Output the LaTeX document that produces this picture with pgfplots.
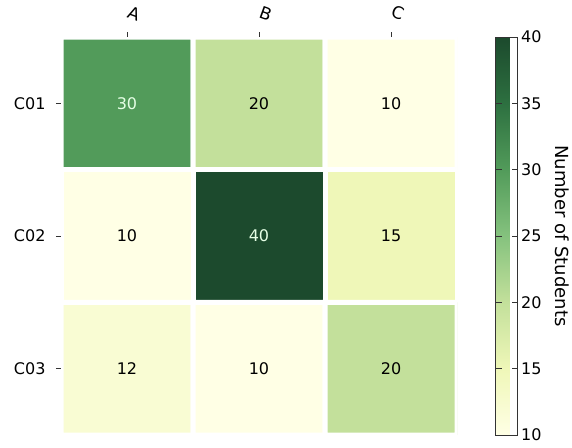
\documentclass[border=0pt]{standalone}
\usepackage{pgfplots}
\pgfplotsset{compat=1.18}
\usepackage{pgfplotstable}
\usepackage{fontspec}
\setmainfont{DejaVu Sans}

% students per course (x = group A/B/C, y = course row)
\pgfplotstableread{
x y c
0 0 30
1 0 20
2 0 10
0 1 10
1 1 40
2 1 15
0 2 12
1 2 10
2 2 20
}\students

\pgfplotstableread{
x y c
1 0 20
2 0 10
0 1 10
2 1 15
0 2 12
1 2 10
2 2 20
}\lightcells

\pgfplotstableread{
x y c
0 0 30
1 1 40
}\darkcells

\begin{document}
\begin{tikzpicture}[font=\fontsize{16}{19}\selectfont]
\begin{axis}[
    at={(0,0)}, anchor=south west,
    width=396pt, height=398pt, scale only axis,
    xmin=-0.5, xmax=2.5, ymin=-0.5, ymax=2.5,
    y dir=reverse,
    axis line style={draw=none},
    xtick={0,1,2}, xticklabels={A,B,C},
    ytick={0,1,2}, yticklabels={C01,C02,C03},
    xtick pos=upper, xticklabel pos=upper,
    ytick pos=left,
    tick align=outside,
    major tick length=5pt,
    tick style={black!80, line width=0.8pt},
    xticklabel style={rotate=-20, anchor=center, yshift=20pt,
        font=\fontsize{17}{20}\selectfont},
    yticklabel style={xshift=-7pt},
    colormap={ylgn}{
        rgb255(0)=(255,255,229)
        rgb255(1)=(239,247,184)
        rgb255(2)=(195,224,155)
        rgb255(3)=(133,194,126)
        rgb255(4)=(82,155,90)
        rgb255(5)=(45,112,64)
        rgb255(6)=(28,74,45)
    },
    point meta min=10, point meta max=40,
    colorbar,
    colorbar style={
        at={(parent axis.north east)}, anchor=north west,
        xshift=30pt,
        width=22pt,
        ytick={10,15,...,40},
        major tick length=6pt,
        tick style={black!80, line width=0.8pt},
        axis line style={black!80, line width=0.8pt},
        /pgf/number format/assume math mode=true,
        ylabel={Number of Students},
        ylabel shift=7pt,
        ylabel style={rotate=180, font=\fontsize{18}{21}\selectfont},
    },
]
\addplot[matrix plot*, mesh/cols=3, point meta=explicit,
    draw=white, line width=5pt] table[meta=c] {\students};
\addplot[only marks, mark=none,
    point meta=explicit symbolic, nodes near coords,
    every node near coord/.style={anchor=center, black}]
    table[meta=c] {\lightcells};
\addplot[only marks, mark=none,
    point meta=explicit symbolic, nodes near coords,
    every node near coord/.style={anchor=center, white!90!green}]
    table[meta=c] {\darkcells};
\end{axis}
\pgfresetboundingbox
\path (-61pt,-12pt) rectangle (511pt,435pt);
\end{tikzpicture}
\end{document}
